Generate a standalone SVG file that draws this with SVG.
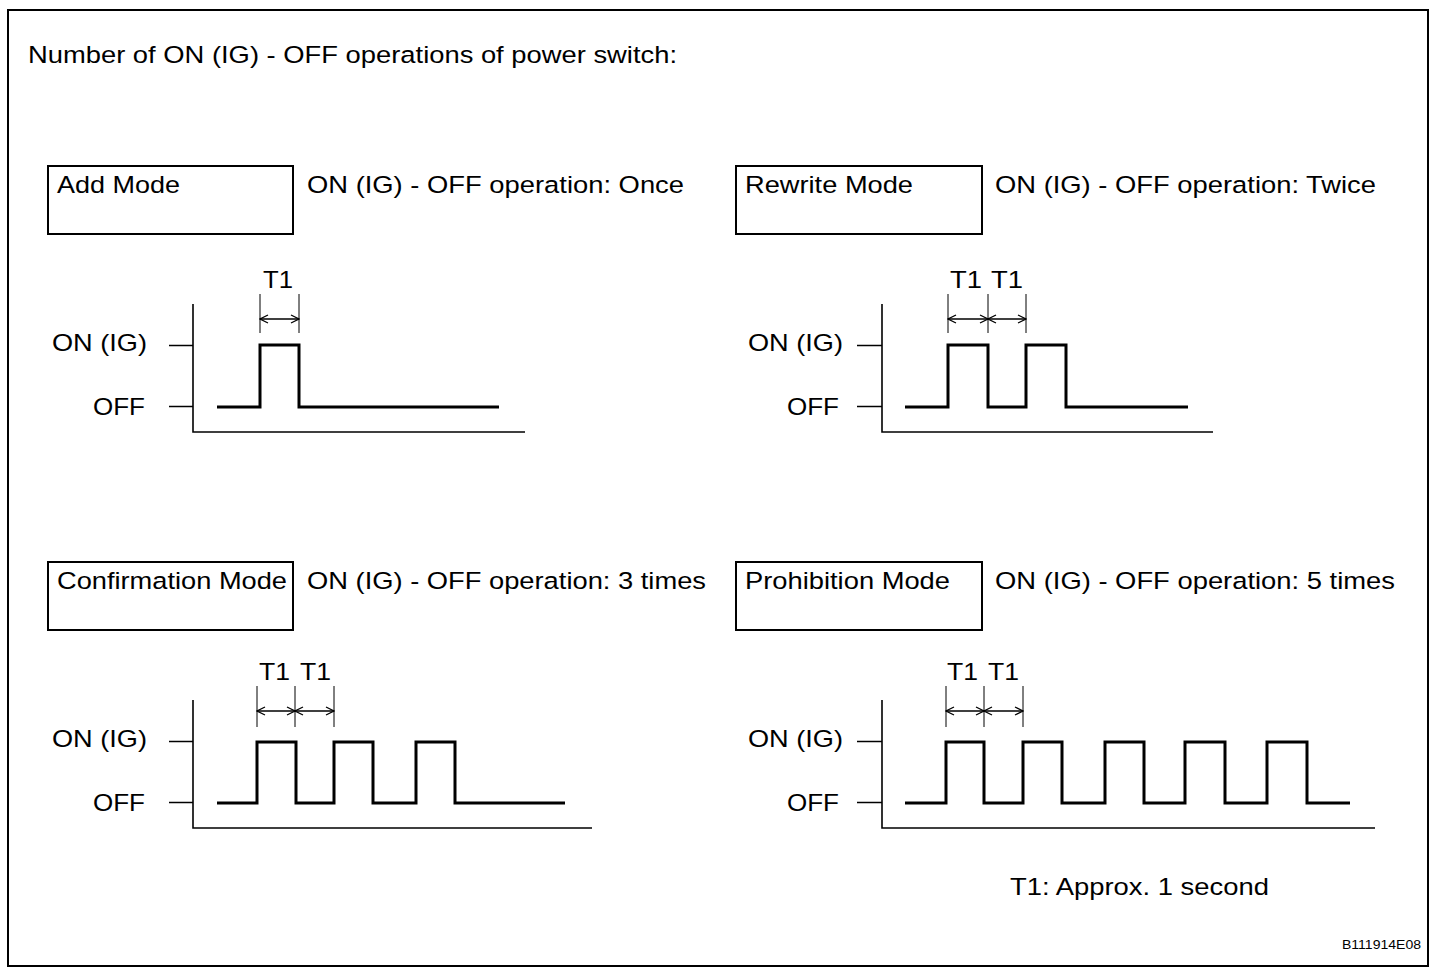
<svg xmlns="http://www.w3.org/2000/svg" width="1456" height="976" viewBox="0 0 1456 976">
<style>
text{font-family:"Liberation Sans",Arial,sans-serif;font-size:24.5px;fill:#000}
.box{fill:#fff;stroke:#000;stroke-width:2}
.axis{fill:none;stroke:#000;stroke-width:1.6}
.sig{fill:none;stroke:#000;stroke-width:3;stroke-linejoin:miter;stroke-linecap:butt}
.ext{stroke:#000;stroke-width:1}
.dim{stroke:#000;stroke-width:1.3;fill:none;marker-start:url(#ah);marker-end:url(#ah)}
.r{text-anchor:end}
.m{text-anchor:middle}
</style>
<defs>
<marker id="ah" viewBox="0 0 10 10" refX="9" refY="5" markerWidth="10" markerHeight="10" markerUnits="userSpaceOnUse" orient="auto-start-reverse">
<path d="M1,1 L9,5 L1,9" fill="none" stroke="#000" stroke-width="1.3"/>
</marker>
</defs>
<rect x="0" y="0" width="1456" height="976" fill="#fff"/>
<rect x="8" y="10" width="1420" height="956" fill="none" stroke="#000" stroke-width="2"/>
<text id="title" x="28" y="63" textLength="649" lengthAdjust="spacingAndGlyphs">Number of ON (IG) - OFF operations of power switch:</text>

<g id="add-mode">
<rect class="box" x="48" y="166" width="245" height="68"/>
<text x="57" y="193" textLength="123" lengthAdjust="spacingAndGlyphs">Add Mode</text>
<text x="307" y="193" textLength="377" lengthAdjust="spacingAndGlyphs">ON (IG) - OFF operation: Once</text>
</g>
<g id="add-chart">
<path class="axis" d="M193,304 V432 H525"/>
<path class="axis" d="M169,345.5 H193 M169,406.5 H193"/>
<text x="52" y="351" textLength="95" lengthAdjust="spacingAndGlyphs">ON (IG)</text>
<text x="93" y="415" textLength="52" lengthAdjust="spacingAndGlyphs">OFF</text>
<path class="sig" d="M217,407 H260 V345 H299 V407 H499"/>
<text x="263" y="288" textLength="30" lengthAdjust="spacingAndGlyphs">T1</text>
</g>

<g id="rewrite-mode">
<rect class="box" x="736" y="166" width="246" height="68"/>
<text x="745" y="193" textLength="168" lengthAdjust="spacingAndGlyphs">Rewrite Mode</text>
<text x="995" y="193" textLength="381" lengthAdjust="spacingAndGlyphs">ON (IG) - OFF operation: Twice</text>
</g>
<g id="rewrite-chart">
<path class="axis" d="M882,304 V432 H1213"/>
<path class="axis" d="M857,345.5 H882 M857,406.5 H882"/>
<text x="748" y="351" textLength="95" lengthAdjust="spacingAndGlyphs">ON (IG)</text>
<text x="787" y="415" textLength="52" lengthAdjust="spacingAndGlyphs">OFF</text>
<path class="sig" d="M905,407 H948 V345 H988 V407 H1026 V345 H1066 V407 H1188"/>
<text x="950" y="288" textLength="32" lengthAdjust="spacingAndGlyphs">T1</text>
<text x="991" y="288" textLength="32" lengthAdjust="spacingAndGlyphs">T1</text>
</g>

<g id="confirmation-mode">
<rect class="box" x="48" y="562" width="245" height="68"/>
<text x="57" y="589" textLength="230" lengthAdjust="spacingAndGlyphs">Confirmation Mode</text>
<text x="307" y="589" textLength="399" lengthAdjust="spacingAndGlyphs">ON (IG) - OFF operation: 3 times</text>
</g>
<g id="confirmation-chart">
<path class="axis" d="M193,700 V828 H592"/>
<path class="axis" d="M169,741.5 H193 M169,802.5 H193"/>
<text x="52" y="747" textLength="95" lengthAdjust="spacingAndGlyphs">ON (IG)</text>
<text x="93" y="811" textLength="52" lengthAdjust="spacingAndGlyphs">OFF</text>
<path class="sig" d="M217,803 H257 V742 H296 V803 H334 V742 H373 V803 H416 V742 H455 V803 H565"/>
<text x="259" y="680" textLength="31" lengthAdjust="spacingAndGlyphs">T1</text>
<text x="300" y="680" textLength="31" lengthAdjust="spacingAndGlyphs">T1</text>
</g>

<g id="prohibition-mode">
<rect class="box" x="736" y="562" width="246" height="68"/>
<text x="745" y="589" textLength="205" lengthAdjust="spacingAndGlyphs">Prohibition Mode</text>
<text x="995" y="589" textLength="400" lengthAdjust="spacingAndGlyphs">ON (IG) - OFF operation: 5 times</text>
</g>
<g id="prohibition-chart">
<path class="axis" d="M882,700 V828 H1375"/>
<path class="axis" d="M857,741.5 H882 M857,802.5 H882"/>
<text x="748" y="747" textLength="95" lengthAdjust="spacingAndGlyphs">ON (IG)</text>
<text x="787" y="811" textLength="52" lengthAdjust="spacingAndGlyphs">OFF</text>
<path class="sig" d="M905,803 H946 V742 H984 V803 H1023 V742 H1062 V803 H1105 V742 H1144 V803 H1185 V742 H1225 V803 H1267 V742 H1307 V803 H1350"/>
<text x="947" y="680" textLength="31" lengthAdjust="spacingAndGlyphs">T1</text>
<text x="988" y="680" textLength="31" lengthAdjust="spacingAndGlyphs">T1</text>
</g>

<g id="connectors">
<path class="ext" d="M260,294 V333 M299,294 V333"/>
<line class="dim" x1="260" y1="319" x2="299" y2="319"/>
<path class="ext" d="M948,294 V333 M988,294 V333 M1026,294 V333"/>
<line class="dim" x1="948" y1="319" x2="988" y2="319"/>
<line class="dim" x1="988" y1="319" x2="1026" y2="319"/>
<path class="ext" d="M257,686 V727 M295,686 V727 M334,686 V727"/>
<line class="dim" x1="257" y1="711" x2="295" y2="711"/>
<line class="dim" x1="295" y1="711" x2="334" y2="711"/>
<path class="ext" d="M946,686 V727 M984,686 V727 M1023,686 V727"/>
<line class="dim" x1="946" y1="711" x2="984" y2="711"/>
<line class="dim" x1="984" y1="711" x2="1023" y2="711"/>
</g>

<g id="note">
<text x="1010" y="895" textLength="259" lengthAdjust="spacingAndGlyphs">T1: Approx. 1 second</text>
</g>
<text id="code" x="1342" y="949" style="font-size:13px" textLength="79" lengthAdjust="spacingAndGlyphs">B111914E08</text>
</svg>
